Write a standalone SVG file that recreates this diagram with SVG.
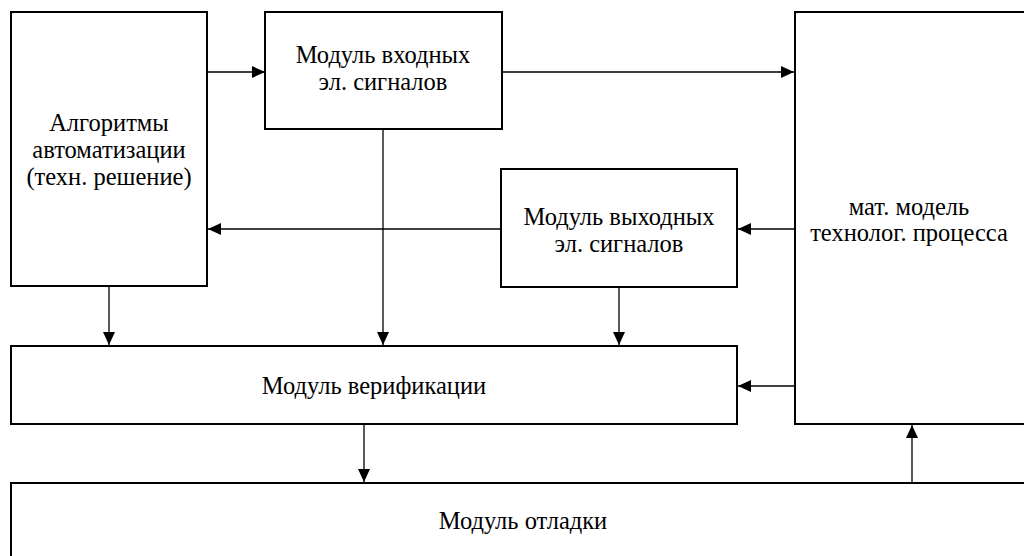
<svg xmlns="http://www.w3.org/2000/svg" width="1024" height="556" viewBox="0 0 1024 556">
<style>
.box{fill:#fff;stroke:#000;stroke-width:2}
.t{font-family:"Liberation Serif","DejaVu Serif",serif;font-size:24.5px;fill:#000;text-anchor:middle}
.c{stroke:#000;stroke-width:1.3;fill:none;marker-end:url(#ah)}
</style>
<defs>
<marker id="ah" markerWidth="13" markerHeight="12" refX="13" refY="6" orient="auto" markerUnits="userSpaceOnUse">
<path d="M0,0 L13,6 L0,12 Z" fill="#000"/>
</marker>
</defs>
<rect width="1024" height="556" fill="#fff"/>
<g id="n-algo">
<rect class="box" x="11" y="12" width="196" height="274"/>
<text class="t" x="109" y="131">Алгоритмы</text>
<text class="t" x="109" y="158">автоматизации</text>
<text class="t" x="109" y="185">(техн. решение)</text>
</g>
<g id="n-in">
<rect class="box" x="265" y="12" width="237" height="117"/>
<text class="t" x="383" y="63">Модуль входных</text>
<text class="t" x="383" y="90">эл. сигналов</text>
</g>
<g id="n-model">
<rect class="box" x="795" y="12" width="240" height="412"/>
<text class="t" x="909" y="215">мат. модель</text>
<text class="t" x="909" y="241">технолог. процесса</text>
</g>
<g id="n-out">
<rect class="box" x="501" y="169" width="236" height="118"/>
<text class="t" x="619" y="225">Модуль выходных</text>
<text class="t" x="619" y="252">эл. сигналов</text>
</g>
<g id="n-verif">
<rect class="box" x="11" y="346" width="726" height="78"/>
<text class="t" x="374" y="394">Модуль верификации</text>
</g>
<g id="n-debug">
<rect class="box" x="11" y="483" width="1030" height="90"/>
<text class="t" x="523" y="529">Модуль отладки</text>
</g>
<g id="connectors">
<line class="c" x1="207" y1="72" x2="265" y2="72"/>
<line class="c" x1="502" y1="72" x2="794" y2="72"/>
<line class="c" x1="501" y1="229" x2="208" y2="229"/>
<line class="c" x1="795" y1="229" x2="738" y2="229"/>
<line class="c" x1="383" y1="129" x2="383" y2="345"/>
<line class="c" x1="109" y1="286" x2="109" y2="345"/>
<line class="c" x1="619" y1="287" x2="619" y2="345"/>
<line class="c" x1="795" y1="386" x2="738" y2="386"/>
<line class="c" x1="364" y1="424" x2="364" y2="482"/>
<line class="c" x1="912" y1="483" x2="912" y2="425"/>
</g>
</svg>
